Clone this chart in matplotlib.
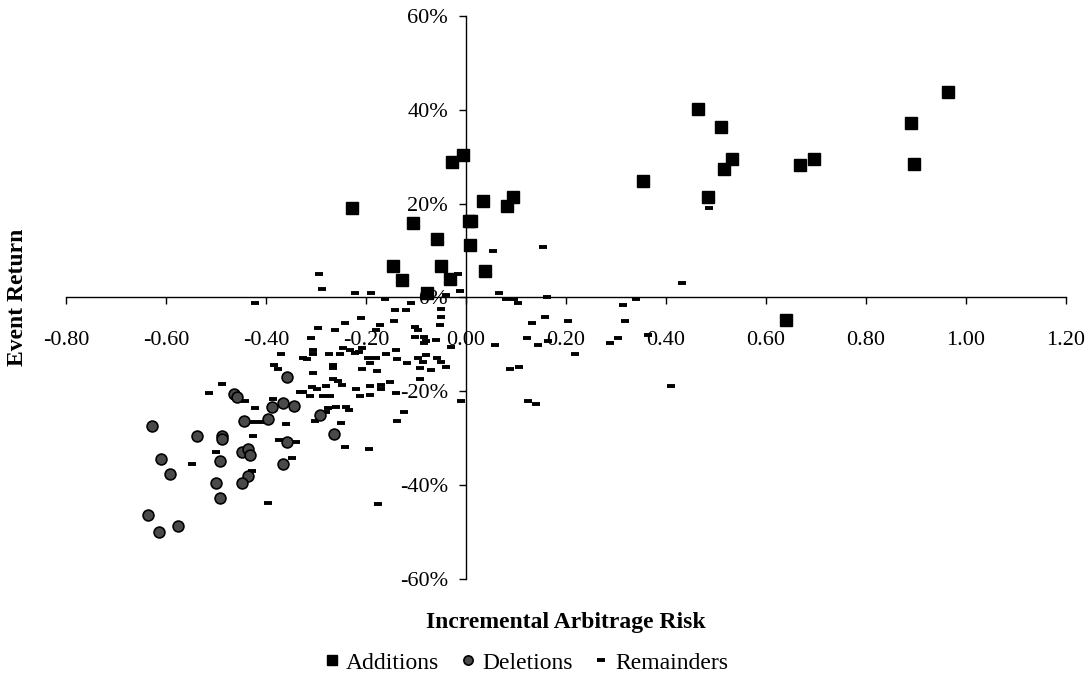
import matplotlib.pyplot as plt
from matplotlib.ticker import FuncFormatter, MultipleLocator

plt.rcParams['font.family'] = ['Liberation Serif', 'DejaVu Serif']
plt.rcParams['axes.unicode_minus'] = False

# incremental arbitrage risk (x) and event return in % (y)
adiciones_x = [-0.228, -0.106, -0.146, -0.127, -0.058, -0.050, -0.031, -0.027,
               -0.006, 0.006, 0.011, 0.009, 0.035, 0.039, 0.083, 0.094, -0.077,
               0.465, 0.510, 0.532, 0.517, 0.354, 0.484, 0.640, 0.669, 0.696,
               0.889, 0.896, 0.963]
adiciones_y = [19.0, 15.9, 6.8, 3.7, 12.4, 6.8, 4.0, 28.8,
               30.4, 16.3, 16.3, 11.1, 20.6, 5.7, 19.4, 21.4, 0.9,
               40.2, 36.3, 29.6, 27.3, 24.9, 21.4, -4.9, 28.2, 29.6,
               37.1, 28.5, 43.8]

bajas_x = [-0.358, -0.464, -0.457, -0.387, -0.365, -0.343, -0.443, -0.395,
           -0.292, -0.628, -0.538, -0.487, -0.487, -0.358, -0.264, -0.448,
           -0.436, -0.432, -0.609, -0.491, -0.365, -0.591, -0.436, -0.499,
           -0.447, -0.491, -0.636, -0.613, -0.576]
bajas_y = [-16.9, -20.5, -21.2, -23.3, -22.5, -23.2, -26.4, -26.0,
           -25.1, -27.3, -29.6, -29.6, -30.1, -30.9, -29.2, -32.9,
           -32.4, -33.6, -34.4, -34.9, -35.6, -37.6, -38.0, -39.6,
           -39.6, -42.8, -46.4, -49.9, -48.8]

resto_x = [-0.294, -0.287, -0.221, -0.190, -0.421, -0.162, -0.015, -0.012,
           -0.039, 0.055, 0.155, 0.066, 0.081, 0.096, 0.104, 0.162, 0.432,
           0.487, -0.109, -0.142, -0.120, -0.049, -0.049, -0.209, -0.144,
           -0.051, -0.102, -0.095, -0.172, -0.179, -0.242, -0.262, -0.295,
           -0.309, -0.084, -0.079, -0.059, -0.029, -0.245, -0.232, -0.222,
           -0.213, -0.207, -0.305, -0.305, -0.325, -0.317, -0.273, -0.252,
           -0.195, -0.180, -0.192, -0.177, -0.207, -0.160, -0.139, -0.137,
           -0.117, -0.095, -0.085, -0.079, -0.057, -0.050, -0.039, -0.069,
           -0.092, -0.265, -0.265, -0.305, -0.265, -0.255, -0.247, -0.279,
           -0.220, -0.192, -0.169, -0.169, -0.151, -0.191, -0.212, -0.307,
           -0.297, -0.325, -0.312, -0.285, -0.272, -0.139, -0.091, -0.009,
           -0.259, -0.239, -0.233, -0.124, -0.137, -0.302, -0.249, -0.275,
           -0.280, 0.159, 0.133, 0.204, 0.122, 0.144, 0.164, 0.059, 0.219,
           0.089, 0.107, 0.125, 0.141, 0.315, 0.341, 0.319, 0.304, 0.289,
           0.365, 0.410, -0.369, -0.384, -0.375, -0.487, -0.513, -0.442,
           -0.421, -0.385, -0.332, -0.359, -0.425, -0.410, -0.242, -0.194,
           -0.175, -0.425, -0.373, -0.340, -0.499, -0.547, -0.347, -0.428,
           -0.395, -0.101, -0.083]
resto_y = [4.9, 1.7, 0.9, 0.9, -1.1, -0.4, 4.9, 1.3,
           0.5, 10.0, 10.8, 1.0, -0.3, -0.3, -1.1, 0.1, 3.0,
           19.0, -1.1, -2.7, -2.7, -2.5, -4.1, -4.3, -5.0,
           -5.9, -6.2, -7.0, -5.9, -7.0, -5.5, -7.0, -6.6,
           -8.6, -8.4, -9.2, -9.1, -10.5, -10.7, -11.2, -11.9,
           -11.6, -10.7, -11.1, -12.1, -13.0, -13.2, -12.1, -12.1,
           -13.0, -13.0, -14.0, -15.7, -15.3, -12.1, -11.2, -13.1,
           -14.0, -13.0, -13.7, -12.3, -13.0, -13.7, -14.9, -15.5,
           -15.0, -14.4, -15.0, -16.0, -17.4, -17.9, -18.7, -18.8,
           -19.6, -18.8, -18.7, -19.5, -18.1, -20.8, -21.1, -19.1,
           -19.6, -20.1, -21.1, -21.1, -21.1, -20.4, -17.4, -22.1,
           -23.3, -23.3, -24.0, -24.5, -26.3, -26.3, -26.7, -23.5,
           -24.5, -4.2, -5.4, -5.0, -8.6, -10.2, -9.3, -10.2, -12.1,
           -15.3, -14.9, -22.0, -22.8, -1.5, -0.3, -5.0, -8.6, -9.8,
           -7.9, -18.8, -12.1, -14.4, -15.3, -18.4, -20.4, -22.0,
           -23.5, -21.6, -20.1, -27.0, -26.5, -26.5, -31.9, -32.3,
           -44.1, -29.5, -30.4, -30.7, -33.0, -35.4, -34.3, -37.0,
           -43.8, -8.5, -9.6]

fig = plt.figure(figsize=(10.92, 6.77), dpi=100)
ax = fig.add_axes([0.0604, 0.1448, 0.9158, 0.8316])

ax.plot(adiciones_x, adiciones_y, ls='none', marker='s', ms=8.2,
        mfc='black', mec='black', zorder=4, label='Additions')
ax.plot(bajas_x, bajas_y, ls='none', marker='o', ms=7.8,
        mfc='#4a4a4a', mec='black', mew=1.2, zorder=4, label='Deletions')
ax.plot(resto_x, resto_y, ls='none', marker='_', ms=6,
        mec='black', mew=2.8, zorder=3, label='Remainders')

ax.set_xlim(-0.8, 1.2)
ax.set_ylim(-60, 60)
ax.xaxis.set_major_locator(MultipleLocator(0.2))
ax.yaxis.set_major_locator(MultipleLocator(20))
ax.xaxis.set_major_formatter(FuncFormatter(lambda v, p: '%.2f' % v))
ax.yaxis.set_major_formatter(FuncFormatter(lambda v, p: '%d%%' % round(v)))

# ejes cruzando en el origen
ax.spines['left'].set_position('zero')
ax.spines['bottom'].set_position('zero')
ax.spines['right'].set_visible(False)
ax.spines['top'].set_visible(False)
for s in ('left', 'bottom'):
    ax.spines[s].set_linewidth(1.0)
ax.tick_params(axis='both', direction='out', length=5, width=1.0,
               labelsize=16, colors='black')
ax.tick_params(axis='x', pad=19)
ax.tick_params(axis='y', pad=8)

fig.text(0.016, 0.5613, 'Event Return', rotation=90, ha='center',
         va='center', fontsize=17, fontweight='bold')
fig.text(0.5178, 0.0798, 'Incremental Arbitrage Risk', ha='center',
         va='center', fontsize=17, fontweight='bold')

fig.legend(loc='center', bbox_to_anchor=(0.481, 0.0207), ncol=3,
           frameon=False, fontsize=17, handletextpad=0.2,
           columnspacing=0.8, handlelength=0.8, markerscale=0.85)

plt.savefig('out.png', dpi=100)
